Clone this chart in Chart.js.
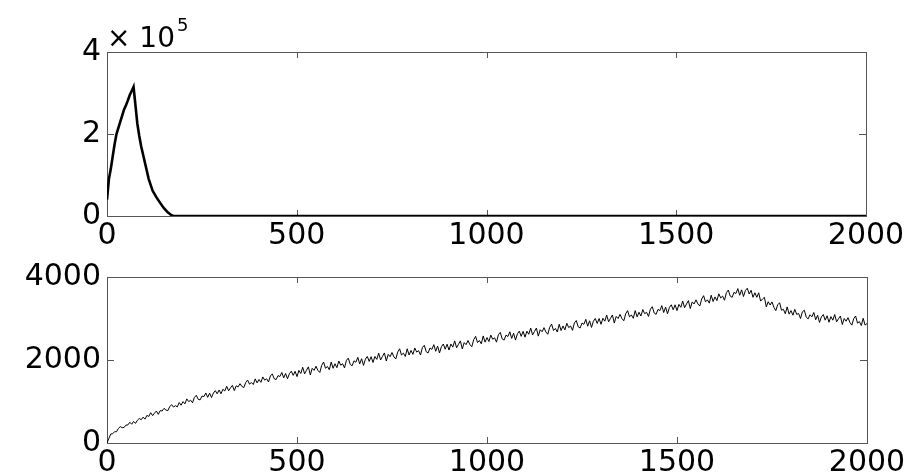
<!DOCTYPE html>
<html>
<head>
<meta charset="utf-8">
<script src="https://cdn.jsdelivr.net/npm/chart.js@4"></script>
<style>
  body { margin: 0; background: #fff; }
  canvas { position: absolute; left: 0; }
  #topChart { top: 0; }
  #bottomChart { top: 250px; }
</style>
</head>
<body>
<canvas id="topChart" width="913" height="250"></canvas>
<canvas id="bottomChart" width="913" height="222"></canvas>
<script>
// top panel: sharp peak near the start, then flat at zero
const topX = [0, 5, 10, 15, 20, 25, 30, 35, 40, 45, 50, 55, 60, 65, 70, 75, 80, 85, 90,
  100, 110, 120, 130, 140, 150, 160, 170, 175, 180, 2000];
const topY = [40000, 90000, 115000, 145000, 175000, 200000, 215000, 230000, 245000, 260000,
  270000, 282000, 295000, 305000, 315000, 270000, 225000, 195000, 170000,
  130000, 90000, 62000, 46000, 32000, 19000, 9000, 2000, 0, 0, 0];
const topYTicks = [0, 200000, 400000];

// bottom panel: noisy curve, one value every 5 steps (0..2000)
const bottomY = [
  0, 112, 217, 224, 273, 270, 351, 396, 368, 376,
  432, 436, 500, 452, 520, 472, 548, 592, 560, 624,
  575, 665, 640, 730, 660, 720, 770, 690, 780, 770,
  835, 795, 780, 875, 925, 865, 900, 870, 975, 910,
  998, 943, 1063, 996, 1032, 970, 1099, 1149, 1052, 1039,
  1131, 1118, 1205, 1101, 1200, 1096, 1204, 1261, 1185, 1277,
  1187, 1295, 1254, 1367, 1258, 1329, 1388, 1263, 1378, 1351,
  1429, 1362, 1335, 1457, 1516, 1419, 1457, 1409, 1545, 1448,
  1532, 1462, 1592, 1514, 1548, 1470, 1616, 1666, 1548, 1526,
  1624, 1602, 1700, 1569, 1675, 1549, 1671, 1729, 1630, 1728,
  1600, 1750, 1675, 1825, 1665, 1755, 1835, 1640, 1800, 1750,
  1850, 1750, 1700, 1870, 1950, 1800, 1845, 1765, 1950, 1800,
  1910, 1815, 1975, 1875, 1910, 1810, 1990, 2045, 1895, 1860,
  1980, 1945, 2065, 1905, 2030, 1870, 2020, 2085, 1965, 2080,
  1940, 2085, 2015, 2165, 2000, 2090, 2170, 1975, 2135, 2080,
  2180, 2075, 2025, 2190, 2270, 2120, 2165, 2085, 2270, 2120,
  2230, 2135, 2290, 2190, 2225, 2120, 2300, 2355, 2200, 2170,
  2290, 2255, 2370, 2210, 2335, 2170, 2320, 2385, 2260, 2380,
  2240, 2385, 2310, 2460, 2295, 2380, 2460, 2265, 2420, 2370,
  2470, 2370, 2320, 2490, 2570, 2420, 2470, 2390, 2580, 2430,
  2540, 2445, 2600, 2500, 2535, 2430, 2610, 2665, 2510, 2480,
  2600, 2565, 2680, 2520, 2645, 2480, 2630, 2695, 2570, 2690,
  2550, 2695, 2620, 2770, 2605, 2690, 2770, 2575, 2730, 2680,
  2780, 2675, 2620, 2790, 2865, 2710, 2760, 2675, 2860, 2710,
  2820, 2725, 2885, 2780, 2820, 2715, 2895, 2950, 2800, 2770,
  2890, 2860, 2980, 2815, 2945, 2785, 2935, 3000, 2880, 3000,
  2860, 3005, 2935, 3080, 2920, 3005, 3085, 2890, 3050, 3000,
  3100, 3000, 2945, 3115, 3190, 3040, 3085, 3005, 3190, 3040,
  3150, 3060, 3215, 3115, 3150, 3050, 3225, 3285, 3130, 3100,
  3220, 3190, 3310, 3145, 3275, 3115, 3265, 3330, 3210, 3330,
  3190, 3340, 3270, 3420, 3260, 3350, 3430, 3240, 3400, 3350,
  3450, 3350, 3300, 3470, 3550, 3400, 3450, 3370, 3560, 3410,
  3520, 3430, 3595, 3495, 3540, 3440, 3625, 3685, 3540, 3510,
  3630, 3600, 3720, 3560, 3690, 3530, 3675, 3730, 3590, 3680,
  3510, 3620, 3510, 3620, 3420, 3470, 3510, 3280, 3405, 3325,
  3400, 3270, 3190, 3330, 3380, 3200, 3220, 3115, 3280, 3105,
  3190, 3080, 3220, 3100, 3120, 3000, 3160, 3200, 3035, 2990,
  3090, 3040, 3145, 2970, 3080, 2905, 3040, 3095, 2960, 3065,
  2910, 3045, 2960, 3095, 2920, 2995, 3060, 2855, 3000, 2935,
  3020, 2905, 2840, 2995, 3060, 2890, 2925, 2830, 3005, 2840,
  2880
];
const bottomYTicks = [0, 2000, 4000];
const xTicks = [0, 500, 1000, 1500, 2000];

const bottomX = [];
for (let i = 0; i < bottomY.length; i++) bottomX.push(i * 5);

const tickFont = { family: 'DejaVu Sans', size: 30 };

// MATLAB style box with inward ticks on all four sides
const boxPlugin = {
  id: 'box',
  beforeDatasetsDraw(chart) {
    const { ctx, chartArea: a, scales: { x, y } } = chart;
    ctx.save();
    ctx.strokeStyle = '#555';
    ctx.lineWidth = 1;
    ctx.strokeRect(a.left + 0.5, a.top + 0.5, a.right - a.left, a.bottom - a.top);
    ctx.beginPath();
    x.ticks.forEach(t => {
      const px = Math.round(x.getPixelForValue(t.value)) + 0.5;
      ctx.moveTo(px, a.bottom); ctx.lineTo(px, a.bottom - 6);
      ctx.moveTo(px, a.top); ctx.lineTo(px, a.top + 6);
    });
    y.ticks.forEach(t => {
      const py = Math.round(y.getPixelForValue(t.value)) + 0.5;
      ctx.moveTo(a.left, py); ctx.lineTo(a.left + 7, py);
      ctx.moveTo(a.right, py); ctx.lineTo(a.right - 7, py);
    });
    ctx.stroke();
    ctx.restore();
  }
};

// "x 10^5" exponent label above the top panel
const expPlugin = {
  id: 'exp',
  afterDraw(chart) {
    const { ctx, chartArea: a } = chart;
    ctx.save();
    ctx.fillStyle = '#000';
    ctx.textBaseline = 'alphabetic';
    ctx.font = '28px "DejaVu Sans"';
    const base = '\u00d7 10';
    ctx.fillText(base, a.left, 47);
    const w = ctx.measureText(base).width;
    ctx.font = '18px "DejaVu Sans"';
    ctx.fillText('5', a.left + w + 2, 31);
    ctx.restore();
  }
};

function makeOptions(yMax, yTicks, yLabel, padTop, padRight, xHeight) {
  return {
    responsive: false,
    animation: false,
    layout: { padding: { top: padTop, right: padRight, left: 0, bottom: 0 } },
    plugins: { legend: { display: false }, tooltip: { enabled: false } },
    elements: { point: { radius: 0 }, line: { tension: 0 } },
    scales: {
      x: {
        type: 'linear', min: 0, max: 2000,
        grid: { display: false, drawTicks: false },
        border: { display: false },
        afterBuildTicks: s => { s.ticks = xTicks.map(v => ({ value: v })); },
        afterFit: s => { s.height = xHeight; },
        ticks: { color: '#000', font: tickFont, padding: 2, maxRotation: 0, autoSkip: false,
          callback: v => String(v) }
      },
      y: {
        type: 'linear', min: 0, max: yMax,
        grid: { display: false, drawTicks: false },
        border: { display: false },
        afterBuildTicks: s => { s.ticks = yTicks.map(v => ({ value: v })); },
        afterFit: s => { s.width = 107; },
        ticks: { color: '#000', font: tickFont, padding: 6, callback: yLabel }
      }
    }
  };
}

new Chart(document.getElementById('topChart'), {
  type: 'line',
  data: {
    datasets: [{
      data: topX.map((x, i) => ({ x: x, y: topY[i] })),
      borderColor: '#000',
      borderWidth: 2.6
    }]
  },
  options: makeOptions(400000, topYTicks, v => String(v / 100000), 52, 47, 34),
  plugins: [boxPlugin, expPlugin]
});

new Chart(document.getElementById('bottomChart'), {
  type: 'line',
  data: {
    datasets: [{
      data: bottomX.map((x, i) => ({ x: x, y: bottomY[i] })),
      borderColor: '#000',
      borderWidth: 1
    }]
  },
  options: makeOptions(4000, bottomYTicks, v => String(v), 27, 46, 29),
  plugins: [boxPlugin]
});
</script>
</body>
</html>
